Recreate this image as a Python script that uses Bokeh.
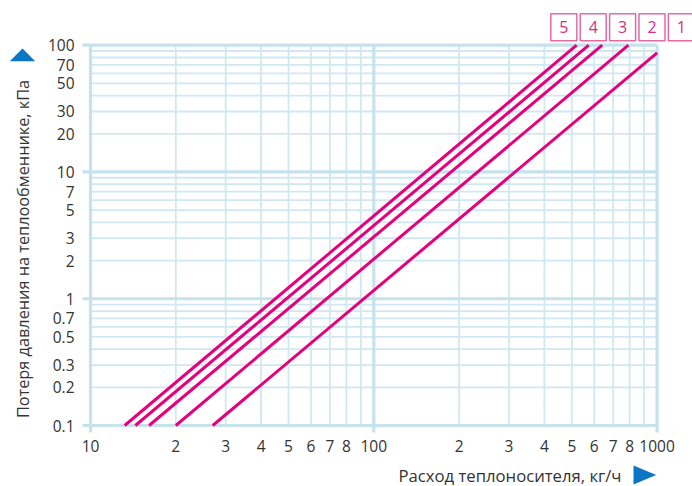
import math
from bokeh.plotting import figure
from bokeh.models import Range1d, FixedTicker, ColumnDataSource
from bokeh.core.properties import value
from bokeh.embed import file_html
from bokeh.resources import INLINE

# ---------------- data ----------------
series_names = ["1", "2", "3", "4", "5"]
flow_low = [27.0, 20.0, 16.1, 14.4, 13.2]      # kg/h at line start
dp_low = [0.1, 0.1, 0.1, 0.1, 0.1]             # kPa at line start
flow_high = [1000, 792, 640, 574, 520]         # kg/h at line end
dp_high = [87, 100, 100, 100, 100]             # kPa at line end

x_ticks = [10, 20, 30, 40, 50, 60, 70, 80, 100, 200, 300, 400, 500, 600, 700, 800, 1000]
x_tick_labels = ["10", "2", "3", "4", "5", "6", "7", "8", "100",
                 "2", "3", "4", "5", "6", "7", "8", "1000"]
y_ticks = [0.1, 0.2, 0.3, 0.5, 0.7, 1, 2, 3, 5, 7, 10, 20, 30, 50, 70, 100]
y_tick_labels = ["0.1", "0.2", "0.3", "0.5", "0.7", "1", "2", "3", "5", "7",
                 "10", "20", "30", "50", "70", "100"]
x_minor_grid = [20, 30, 40, 50, 60, 70, 80, 90, 200, 300, 400, 500, 600, 700, 800, 900]
x_major_grid = [10, 100, 1000]
y_minor_grid = [0.2, 0.3, 0.4, 0.5, 0.6, 0.7, 0.8, 0.9, 2, 3, 4, 5, 6, 7, 8, 9,
                20, 30, 40, 50, 60, 70, 80, 90]
y_major_grid = [0.1, 1, 10, 100]

x_title = "Расход теплоносителя, кг/ч"
y_title = "Потеря давления на теплообменнике, кПа"

# ---------------- layout ----------------
W, H = 692, 486
X10, XDEC = 90.0, 283.3      # px of x=10, px per decade
Y100, YDEC = 44.7, 126.77    # px (from top) of y=100, px per decade


def x_at(px):
    return 10 ** (1 + (px - X10) / XDEC)


def y_at(py):
    return 10 ** (2 - (py - Y100) / YDEC)


FONT = "Open Sans"
GRID_MINOR = "#d0e8f1"
GRID_MAJOR = "#c6e2ed"
LINE_COLOR = "#e5007e"
BLUE = "#0a76c4"
TEXT = "#333333"

p = figure(width=W, height=H, x_axis_type="log", y_axis_type="log",
           x_range=Range1d(x_at(0), x_at(W)), y_range=Range1d(y_at(H), y_at(0)),
           output_backend="svg", toolbar_location=None,
           min_border=0, min_border_left=0, min_border_right=0,
           min_border_top=0, min_border_bottom=0)
p.outline_line_color = None
p.xgrid.visible = False
p.ygrid.visible = False
p.background_fill_color = "white"
p.border_fill_color = "white"

x_lo, x_hi = x_ticks[0], x_ticks[-1]
y_lo, y_hi = y_ticks[0], y_ticks[-1]
x_ext = x_at(X10 - 8)
y_ext = y_at(Y100 + 3 * YDEC + 7)

# minor grid
p.segment(x0=x_minor_grid, x1=x_minor_grid, y0=[y_lo] * len(x_minor_grid),
          y1=[y_hi] * len(x_minor_grid), line_color=GRID_MINOR, line_width=1.8)
p.segment(x0=[x_lo] * len(y_minor_grid), x1=[x_hi] * len(y_minor_grid),
          y0=y_minor_grid, y1=y_minor_grid, line_color=GRID_MINOR, line_width=1.8)
# major grid (extended like ticks on the left / bottom)
p.segment(x0=x_major_grid, x1=x_major_grid, y0=[y_ext] * len(x_major_grid),
          y1=[y_hi] * len(x_major_grid), line_color=GRID_MAJOR, line_width=3.2)
p.segment(x0=[x_ext] * len(y_major_grid), x1=[x_hi] * len(y_major_grid),
          y0=y_major_grid, y1=y_major_grid, line_color=GRID_MAJOR, line_width=3.2)

# series lines
src = ColumnDataSource(dict(x0=flow_low, y0=dp_low, x1=flow_high, y1=dp_high))
p.segment(x0="x0", y0="y0", x1="x1", y1="y1", source=src,
          line_color=LINE_COLOR, line_width=3)

# series number boxes
box_order = series_names[::-1]
box_x = [x_at(563.3 + 29.4 * i) for i in range(len(box_order))]
box_y = [y_at(26.7)] * len(box_order)
p.rect(x=box_x, y=box_y, width=26, height=27, width_units="screen",
       height_units="screen", fill_color="white", line_color="#e46aa6", line_width=1.5)
p.text(x=box_x, y=box_y, text=box_order, text_align="center", text_baseline="middle",
       text_font=value(FONT), text_font_size="16px", text_color="#d42f80")

# axes
for ax in p.xaxis:
    ax.fixed_location = y_lo
    ax.ticker = FixedTicker(ticks=x_ticks)
    ax.major_label_overrides = dict(zip(x_ticks, x_tick_labels))
    ax.axis_line_color = None
    ax.major_tick_line_color = None
    ax.minor_tick_line_color = None
    ax.major_tick_out = 0
    ax.major_tick_in = 0
    ax.major_label_standoff = 14
    ax.major_label_text_font = FONT
    ax.major_label_text_font_size = "15.5px"
    ax.major_label_text_color = TEXT
for ax in p.yaxis:
    ax.fixed_location = x_lo
    ax.ticker = FixedTicker(ticks=y_ticks)
    ax.major_label_overrides = dict(zip(y_ticks, y_tick_labels))
    ax.axis_line_color = None
    ax.major_tick_line_color = None
    ax.minor_tick_line_color = None
    ax.major_tick_out = 0
    ax.major_tick_in = 0
    ax.major_label_standoff = 16
    ax.major_label_text_align = "center"
    ax.major_label_text_font = FONT
    ax.major_label_text_font_size = "15.5px"
    ax.major_label_text_color = TEXT

# axis titles
p.text(x=[x_at(621)], y=[y_at(474.5)], text=[x_title], text_align="right",
       text_baseline="middle", text_font=value(FONT), text_font_size="16.7px",
       text_color=TEXT)
p.text(x=[x_at(22)], y=[y_at(248.5)], text=[y_title], angle=math.pi / 2,
       text_align="center", text_baseline="middle", text_font=value(FONT),
       text_font_size="16.3px", text_color=TEXT)

# arrows
p.patch(x=[x_at(9.3), x_at(22), x_at(34.7)], y=[y_at(60.7), y_at(48), y_at(60.7)],
        fill_color=BLUE, line_color=None)
p.patch(x=[x_at(633), x_at(655.7), x_at(633)], y=[y_at(465), y_at(474.5), y_at(484)],
        fill_color=BLUE, line_color=None)

open("out.html", "w").write(file_html(p, INLINE))
